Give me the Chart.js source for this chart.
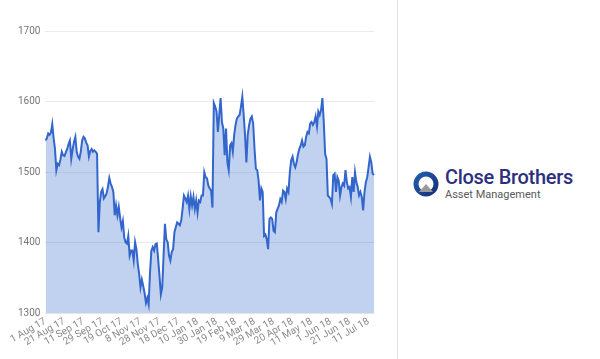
<!DOCTYPE html>
<html>
<head>
<meta charset="utf-8">
<script src="https://cdn.jsdelivr.net/npm/chart.js@4.4.1/dist/chart.umd.min.js"></script>
<style>
  html, body { margin: 0; padding: 0; background: #fff; }
  body { width: 600px; height: 359px; position: relative; overflow: hidden; font-family: Roboto, "Noto Sans", sans-serif; }
  #wrap { position: absolute; left: 0; top: 0; width: 386px; height: 359px; }
  #divider { position: absolute; left: 397px; top: 0; width: 1px; height: 359px; background: #e3e3e3; }
  #logo { position: absolute; left: 413px; top: 167px; display: flex; align-items: center; }
  #logo .txt { margin-left: 6px; line-height: 1; }
  #logo .t1 { font-family: Roboto, sans-serif; font-size: 20px; font-weight: 500; color: #2b2f7e; letter-spacing: -0.3px; }
  #logo .t2 { font-family: Roboto, sans-serif; font-size: 11px; color: #5a5a5a; margin-top: 2px; }
</style>
</head>
<body>
<div id="wrap"><canvas id="c"></canvas></div>
<div id="divider"></div>
<div id="logo">
  <svg width="26" height="26" viewBox="0 0 26 26">
    <defs>
      <linearGradient id="g" x1="0" y1="0" x2="1" y2="1">
        <stop offset="0" stop-color="#1e5fae"/>
        <stop offset="1" stop-color="#1a2f7a"/>
      </linearGradient>
    </defs>
    <circle cx="13" cy="13" r="10" fill="none" stroke="url(#g)" stroke-width="5"/>
    <path d="M6 21 L13 13 L20 21 Z" fill="#9a9a9a"/>
  </svg>
  <div class="txt">
    <div class="t1">Close Brothers</div>
    <div class="t2">Asset Management</div>
  </div>
</div>
<script>
const tickLabels = ["1 Aug 17","21 Aug 17","11 Sep 17","29 Sep 17","19 Oct 17","8 Nov 17","28 Nov 17","18 Dec 17","10 Jan 18","30 Jan 18","19 Feb 18","9 Mar 18","29 Mar 18","20 Apr 18","11 May 18","1 Jun 18","21 Jun 18","11 Jul 18"];
const tickEvery = 14;
const prices = [
1545,1548,1555,1553,1556,1568,1548,1533,1503,1512,
1510,1518,1529,1524,1523,1528,1533,1540,1545,1519,
1532,1543,1550,1529,1522,1519,1529,1545,1550,1548,
1542,1538,1522,1530,1533,1529,1531,1529,1526,1415,
1457,1472,1476,1463,1466,1470,1479,1492,1484,1479,
1472,1439,1453,1439,1451,1435,1422,1431,1408,1401,
1399,1410,1382,1389,1389,1375,1401,1391,1370,1356,
1337,1348,1339,1329,1315,1322,1313,1358,1389,1394,
1389,1398,1399,1377,1353,1327,1337,1382,1427,1405,
1401,1382,1375,1387,1391,1415,1422,1429,1427,1425,
1432,1448,1467,1463,1458,1467,1448,1466,1453,1465,
1448,1460,1443,1460,1458,1467,1467,1500,1493,1491,
1481,1477,1474,1450,1598,1593,1586,1557,1581,1605,
1571,1562,1524,1562,1514,1503,1538,1541,1529,1553,
1567,1576,1579,1581,1593,1607,1581,1553,1514,1553,
1567,1576,1579,1569,1533,1505,1503,1488,1460,1477,
1472,1410,1412,1405,1391,1434,1436,1434,1417,1415,
1443,1448,1453,1462,1458,1474,1472,1462,1477,1472,
1500,1517,1522,1512,1507,1514,1526,1533,1538,1545,
1536,1538,1550,1557,1555,1569,1571,1567,1571,1579,
1565,1586,1581,1588,1605,1571,1526,1519,1467,1465,
1462,1455,1496,1498,1472,1493,1488,1467,1479,1484,
1481,1503,1486,1477,1479,1465,1493,1472,1500,1486,
1479,1467,1472,1465,1446,1472,1486,1493,1507,1522,
1514,1498,1496
];
const yMin = 1300, yMax = 1700, yStep = 100;

const labels = prices.map((_, i) => (i % tickEvery === 0 && tickLabels[i / tickEvery]) ? tickLabels[i / tickEvery] : "");

new Chart(document.getElementById('c'), {
  type: 'line',
  data: {
    labels: labels,
    datasets: [{
      data: prices,
      borderColor: '#3366cc',
      backgroundColor: 'rgba(51,102,204,0.3)',
      borderWidth: 2,
      fill: 'start',
      pointRadius: 0,
      tension: 0
    }]
  },
  options: {
    responsive: true,
    maintainAspectRatio: false,
    animation: false,
    layout: { padding: { top: 31, right: 12, bottom: 8, left: 13 } },
    plugins: { legend: { display: false }, tooltip: { enabled: false } },
    scales: {
      x: {
        grid: { display: false, drawTicks: false },
        border: { display: false },
        ticks: {
          autoSkip: false,
          minRotation: 30,
          maxRotation: 30,
          padding: 2,
          color: '#8a8a8a',
          font: { family: 'Roboto', size: 10 },
          callback: function(v, i) { return labels[i] === "" ? null : labels[i]; }
        }
      },
      y: {
        min: yMin, max: yMax,
        grid: { color: '#ebebeb', drawTicks: false },
        border: { display: false },
        ticks: {
          stepSize: yStep, padding: 5, color: '#757575',
          font: { family: 'Roboto', size: 10 },
          callback: function(v) { return String(v); }
        }
      }
    }
  }
});
</script>
</body>
</html>
